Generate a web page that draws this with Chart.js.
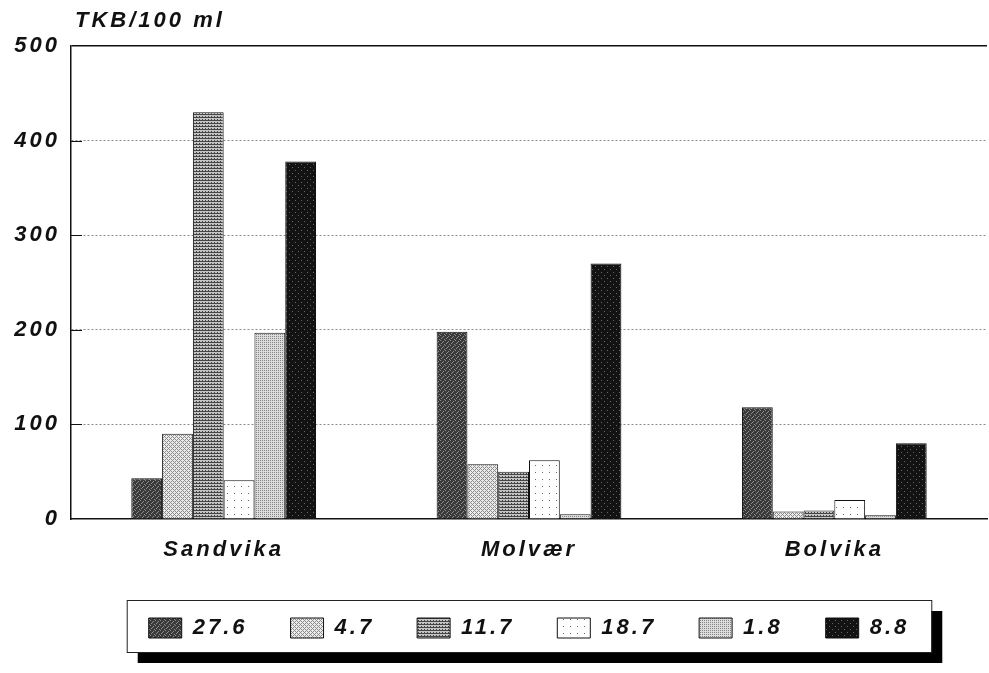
<!DOCTYPE html>
<html>
<head>
<meta charset="utf-8">
<title>TKB/100 ml</title>
<script src="https://cdn.jsdelivr.net/npm/chart.js@4.4.1/dist/chart.umd.min.js"></script>
<style>
    html, body { margin: 0; padding: 0; background: #fff; }
    #wrap { position: relative; width: 989px; height: 673px; }
</style>
</head>
<body>
<div id="wrap"><canvas id="chart"></canvas></div>
<script>
// Data
const categories = ['Sandvika', 'Molvær', 'Bolvika'];
const seriesNames = ['27.6', '4.7', '11.7', '18.7', '1.8', '8.8'];
const values27_6 = [43, 198, 118];
const values4_7 = [90, 58, 8];
const values11_7 = [430, 50, 9];
const values18_7 = [41, 62, 20];
const values1_8 = [197, 5, 4];
const values8_8 = [378, 270, 80];
const yTicks = [0, 100, 200, 300, 400, 500];
const yTitle = 'TKB/100 ml';

const FONT = { family: "'Liberation Sans', Arial, sans-serif", size: 22, style: 'italic', weight: 'bold' };
const INK = '#111';

// Fill textures (scanned-print look)
function makePattern(size, bg, fg, dots) {
    const c = document.createElement('canvas');
    c.width = size;
    c.height = size;
    const g = c.getContext('2d');
    g.fillStyle = bg;
    g.fillRect(0, 0, size, size);
    g.fillStyle = fg;
    dots.forEach(([x, y, w, h]) => g.fillRect(x, y, w || 1, h || 1));
    return g.createPattern(c, 'repeat');
}

const fills = [
    makePattern(5, '#3a3a3a', '#8e8e8e', [[0, 0], [3, 1], [1, 3], [4, 4], [2, 2]]),
    makePattern(4, '#ececec', '#8a8a8a', [[0, 0], [1, 1], [2, 2], [3, 3], [1, 3], [3, 1]]),
    makePattern(3, '#c4c4c4', '#454545', [[0, 0, 3, 1], [1, 2]]),
    makePattern(7, '#ffffff', '#6a6a6a', [[3, 3]]),
    makePattern(2, '#dcdcdc', '#858585', [[0, 0]]),
    makePattern(6, '#131313', '#666666', [[1, 2], [4, 5]])
];

const seriesValues = [values27_6, values4_7, values11_7, values18_7, values1_8, values8_8];

const datasets = seriesNames.map((name, i) => ({
    label: name,
    data: seriesValues[i],
    backgroundColor: fills[i],
    borderColor: INK,
    borderWidth: 1,
    borderSkipped: 'start',
    barPercentage: 1,
    categoryPercentage: 0.605
}));

// Plugins
const spacing = {
    id: 'spacing',
    beforeUpdate(chart) { chart.ctx.letterSpacing = '3px'; },
    beforeLayout(chart) { chart.ctx.letterSpacing = '3px'; },
    beforeDraw(chart) { chart.ctx.letterSpacing = '3px'; }
};

const legendFrame = {
    id: 'legendFrame',
    beforeDraw(chart) {
        const boxes = chart.legend && chart.legend.legendHitBoxes;
        if (!boxes || !boxes.length) return;
        const first = boxes[0];
        const last = boxes[boxes.length - 1];
        const left = first.left - 22;
        const right = last.left + last.width + 22;
        const top = first.top - 17;
        const bottom = first.top + 35;
        const ctx = chart.ctx;
        ctx.save();
        ctx.fillStyle = '#000';
        ctx.fillRect(left + 11, top + 11, right - left, bottom - top);
        ctx.fillStyle = '#fff';
        ctx.fillRect(left, top, right - left, bottom - top);
        ctx.strokeStyle = '#222';
        ctx.lineWidth = 1;
        ctx.strokeRect(left + 0.5, top + 0.5, right - left, bottom - top);
        ctx.restore();
    }
};

const axisExtras = {
    id: 'axisExtras',
    afterDraw(chart) {
        const ctx = chart.ctx;
        const y = chart.scales.y;
        const area = chart.chartArea;
        ctx.save();
        ctx.strokeStyle = INK;
        ctx.lineWidth = 1;
        yTicks.slice(1, -1).forEach(v => {
            const py = Math.round(y.getPixelForValue(v)) + 0.5;
            ctx.beginPath();
            ctx.moveTo(area.left, py);
            ctx.lineTo(area.left + 11, py);
            ctx.stroke();
        });
        ctx.letterSpacing = '3px';
        ctx.font = `${FONT.style} ${FONT.weight} ${FONT.size}px ${FONT.family}`;
        ctx.fillStyle = INK;
        ctx.textAlign = 'left';
        ctx.textBaseline = 'middle';
        ctx.fillText(yTitle, 75, 21);
        ctx.restore();
    }
};

new Chart(document.getElementById('chart'), {
    type: 'bar',
    data: { labels: categories, datasets },
    plugins: [spacing, legendFrame, axisExtras],
    options: {
        responsive: true,
        maintainAspectRatio: false,
        animation: false,
        layout: { padding: { top: 46, right: 2, bottom: 24, left: 0 } },
        plugins: {
            tooltip: { enabled: false },
            title: { display: false },
            legend: {
                position: 'bottom',
                fullSize: false,
                labels: {
                    boxWidth: 33,
                    boxHeight: 20,
                    padding: 43,
                    color: INK,
                    font: FONT
                }
            }
        },
        scales: {
            x: {
                grid: { display: false, drawTicks: false },
                border: { display: true, color: INK, width: 1.5 },
                ticks: { color: INK, font: FONT, padding: 18 },
                afterFit(scale) { scale.height = 55; }
            },
            y: {
                min: 0,
                max: 500,
                afterBuildTicks(scale) { scale.ticks = yTicks.map(v => ({ value: v })); },
                grid: {
                    drawTicks: false,
                    color: ctx => ctx.tick && ctx.tick.value === 500 ? INK : (ctx.tick && ctx.tick.value === 0 ? 'rgba(0,0,0,0)' : '#8a8a8a'),
                    lineWidth: ctx => ctx.tick && ctx.tick.value === 500 ? 1.5 : 1
                },
                border: {
                    display: true,
                    color: INK,
                    width: 1.5,
                    dash: ctx => ctx.tick && ctx.tick.value === 500 ? [] : [2, 2]
                },
                ticks: { color: INK, font: FONT, padding: 11 },
                afterFit(scale) { scale.width = 71; }
            }
        }
    }
});
</script>
</body>
</html>
